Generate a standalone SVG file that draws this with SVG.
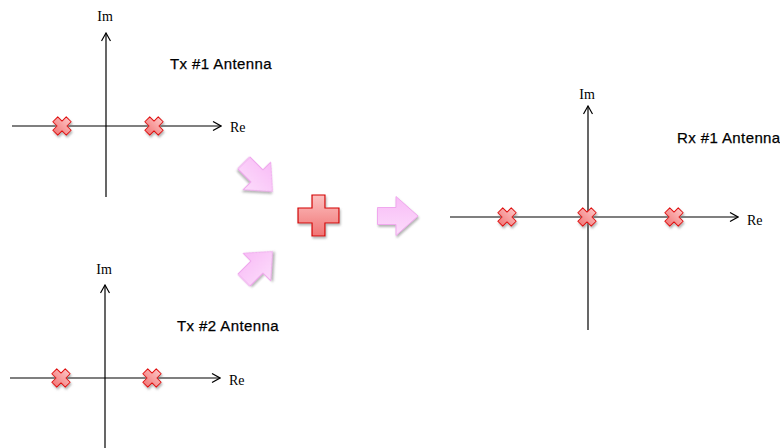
<svg xmlns="http://www.w3.org/2000/svg" width="780" height="448" viewBox="0 0 780 448">
<style>
.axis{stroke:#000;stroke-width:1.2;fill:none}
.lbl{font-family:"Liberation Serif","Times New Roman",serif;font-size:14px;fill:#000}
.title{font-family:"Liberation Sans",Arial,sans-serif;font-size:15px;letter-spacing:0.4px;fill:#000;stroke:#000;stroke-width:0.25}
.mk{fill:url(#mkGrad);stroke:#e01010;stroke-width:1;stroke-linejoin:round;filter:url(#sh)}
.pink{fill:url(#pinkGrad);stroke:#f0a8ee;stroke-width:1;filter:url(#sh)}
</style>
<defs>
<filter id="sh" x="-30%" y="-30%" width="170%" height="170%">
<feDropShadow dx="1" dy="2" stdDeviation="1.2" flood-color="#777" flood-opacity="0.55"/>
</filter>
<linearGradient id="mkGrad" x1="0" y1="0" x2="0" y2="1">
<stop offset="0" stop-color="#fcc0c0"/>
<stop offset="1" stop-color="#f27c7c"/>
</linearGradient>
<linearGradient id="plusGrad" x1="0" y1="0" x2="0" y2="1">
<stop offset="0" stop-color="#fcc0c0"/>
<stop offset="1" stop-color="#f07474"/>
</linearGradient>
<linearGradient id="pinkGrad" x1="0" y1="0" x2="0" y2="1">
<stop offset="0" stop-color="#f8bcf6"/>
<stop offset="1" stop-color="#fcdcfb"/>
</linearGradient>
<marker id="open" viewBox="0 0 10 10" refX="9" refY="5" markerWidth="10" markerHeight="10" markerUnits="userSpaceOnUse" orient="auto">
<path d="M1,0.5 L9,5 L1,9.5" fill="none" stroke="#000" stroke-width="1.2"/>
</marker>
<path id="xm" d="M-3.5,-9.5 H3.5 V-3.5 H9.5 V3.5 H3.5 V9.5 H-3.5 V3.5 H-9.5 V-3.5 H-3.5 Z" transform="rotate(45)"/>
<path id="arr" d="M-20,-8.5 H-1.5 V-19.5 L20.5,0 L-1.5,19.5 V8.5 H-20 Z"/>
</defs>

<g id="tx1">
<line class="axis" x1="106" y1="197" x2="106" y2="33" marker-end="url(#open)"/>
<line class="axis" x1="12" y1="126" x2="221" y2="126" marker-end="url(#open)"/>
<text class="lbl" x="105" y="21" text-anchor="middle">Im</text>
<text class="lbl" x="230" y="132">Re</text>
<g class="mk"><use href="#xm" x="62" y="126"/></g>
<g class="mk"><use href="#xm" x="154" y="126"/></g>
<text class="title" x="170" y="69">Tx #1 Antenna</text>
</g>

<g id="tx2">
<line class="axis" x1="105" y1="448" x2="105" y2="285" marker-end="url(#open)"/>
<line class="axis" x1="10" y1="378" x2="220" y2="378" marker-end="url(#open)"/>
<text class="lbl" x="104" y="274" text-anchor="middle">Im</text>
<text class="lbl" x="229" y="385">Re</text>
<g class="mk"><use href="#xm" x="61" y="378"/></g>
<g class="mk"><use href="#xm" x="152" y="378"/></g>
<text class="title" x="177" y="331">Tx #2 Antenna</text>
</g>

<g id="rx1">
<line class="axis" x1="588" y1="330" x2="588" y2="106" marker-end="url(#open)"/>
<line class="axis" x1="450" y1="217" x2="738" y2="217" marker-end="url(#open)"/>
<text class="lbl" x="587" y="99" text-anchor="middle">Im</text>
<text class="lbl" x="747" y="225">Re</text>
<g class="mk"><use href="#xm" x="507" y="217"/></g>
<g class="mk"><use href="#xm" x="587" y="217"/></g>
<g class="mk"><use href="#xm" x="674" y="217"/></g>
<text class="title" x="677" y="143">Rx #1 Antenna</text>
</g>

<g id="sum">
<path d="M312,195 H325 V208 H339 V223 H325 V236 H312 V223 H298 V208 H312 Z" fill="url(#plusGrad)" stroke="#d40000" stroke-width="1.2" filter="url(#sh)"/>
</g>

<g id="connectors">
<g class="pink" transform="translate(258,177) rotate(45)"><use href="#arr"/></g>
<g class="pink" transform="translate(258,266) rotate(-45)"><use href="#arr"/></g>
<g class="pink" transform="translate(397.5,216)"><use href="#arr"/></g>
</g>
</svg>
